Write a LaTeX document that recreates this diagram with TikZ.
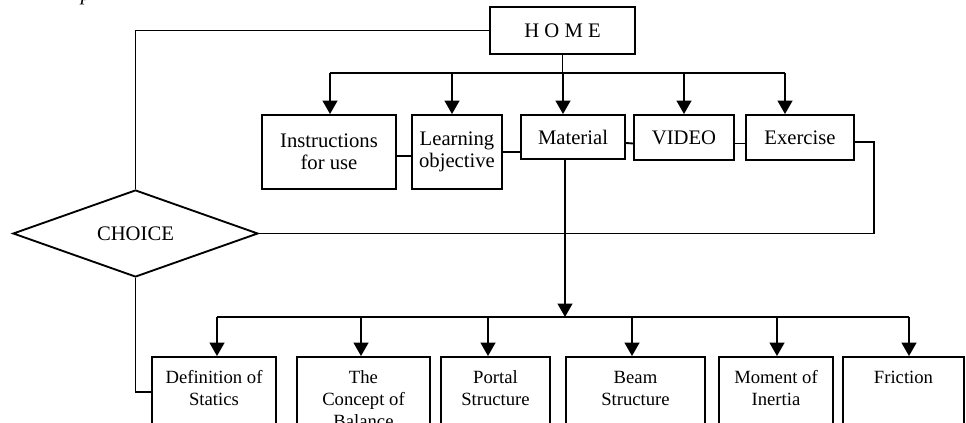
\documentclass[tikz,border=0pt]{standalone}
\usepackage{fontspec}
\setmainfont{Liberation Serif}
\usetikzlibrary{arrows.meta,shapes.geometric}

\begin{document}
\begin{tikzpicture}[x=0.75pt,y=-0.75pt,>={Triangle[width=11pt,length=10pt]},
	line width=1.4pt,
	main node/.style={rectangle,draw,inner sep=0pt,align=center,font=\fontsize{15.5}{16.5}\selectfont},
	sub node/.style={rectangle,draw,inner sep=0pt,align=center,minimum height=63pt,font=\fontsize{14}{16.5}\selectfont},
	choice node/.style={diamond,draw,aspect=2.8,inner sep=0pt,font=\fontsize{15.5}{16.5}\selectfont}]
	\clip[use as bounding box] (0,0) rectangle (966,423);
	\node[anchor=base,font=\itshape\fontsize{15.5}{16.5}\selectfont] (cap) at (86,1) {p};
	\node[main node,minimum width=108.75pt,minimum height=35.25pt] (home) at (562.5,30.5) {H O M E};
	\node[main node,minimum width=100.5pt,minimum height=55.5pt] (instr) at (329,152) {Instructions\\for use};
	\node[main node,minimum width=67.5pt,minimum height=55.5pt] (learn) at (457,152) {Learning\\objective};
	\node[main node,minimum width=78pt,minimum height=33pt] (mat) at (573,137) {Material};
	\node[main node,minimum width=75pt,minimum height=33.75pt] (video) at (684,137.5) {VIDEO};
	\node[main node,minimum width=81pt,minimum height=33.75pt] (exer) at (800,137.5) {Exercise};
	\node[choice node,minimum width=183.75pt,minimum height=65.25pt] (choice) at (135.5,233.5) {CHOICE};
	\node[sub node,minimum width=93pt] (def) at (214,399) {Definition of\\Statics\\\mbox{}};
	\node[sub node,minimum width=99.75pt] (con) at (363.5,399) {The\\Concept of\\Balance};
	\node[sub node,minimum width=81.75pt] (por) at (495.5,399) {Portal\\Structure\\\mbox{}};
	\node[sub node,minimum width=104.25pt] (beam) at (635.5,399) {Beam\\Structure\\\mbox{}};
	\node[sub node,minimum width=85.5pt] (mom) at (776,399) {Moment of\\Inertia\\\mbox{}};
	\node[sub node,minimum width=90.75pt] (fri) at (903.5,399) {Friction\\\mbox{}\\\mbox{}};
	\coordinate (t1) at (330,73);
	\coordinate (t2) at (452,73);
	\coordinate (t3) at (563,73);
	\coordinate (t4) at (684,73);
	\coordinate (t5) at (785,73);
	\coordinate (b1) at (217,317);
	\coordinate (b2) at (361,317);
	\coordinate (b3) at (488,317);
	\coordinate (b4) at (632,317);
	\coordinate (b5) at (777,317);
	\coordinate (b6) at (909,317);
	\coordinate (mdown) at (565,317);
	\coordinate (ecorner) at (874,233.5);
	\draw (home.south) -- (home.south |- t3);
	\draw (t1) -- (t5);
	\foreach \t/\n in {t1/instr,t2/learn,t3/mat,t4/video,t5/exer}
		\draw[->] (\t) -- (\t |- \n.north);
	\draw (home.west) -| (choice.north);
	\draw ([yshift=-3pt]instr.east) -- ([yshift=-3pt]learn.west);
	\draw (learn.east) -- (learn.east -| mat.west);
	\draw ([yshift=-4.5pt]mat.east) -- ([yshift=-4.5pt]video.west);
	\draw ([yshift=-4.5pt]video.east) -- ([yshift=-4.5pt]exer.west);
	\draw ([yshift=-3.4pt]exer.east) -| (ecorner) -- (choice.east);
	\draw[->] (mdown |- mat.south) -- (mdown);
	\draw (b1) -- (b6);
	\foreach \b/\n in {b1/def,b2/con,b3/por,b4/beam,b5/mom,b6/fri}
		\draw[->] (\b) -- (\b |- \n.north);
	\draw (choice.south) |- ([yshift=5.25pt]def.west);
\end{tikzpicture}
\end{document}
